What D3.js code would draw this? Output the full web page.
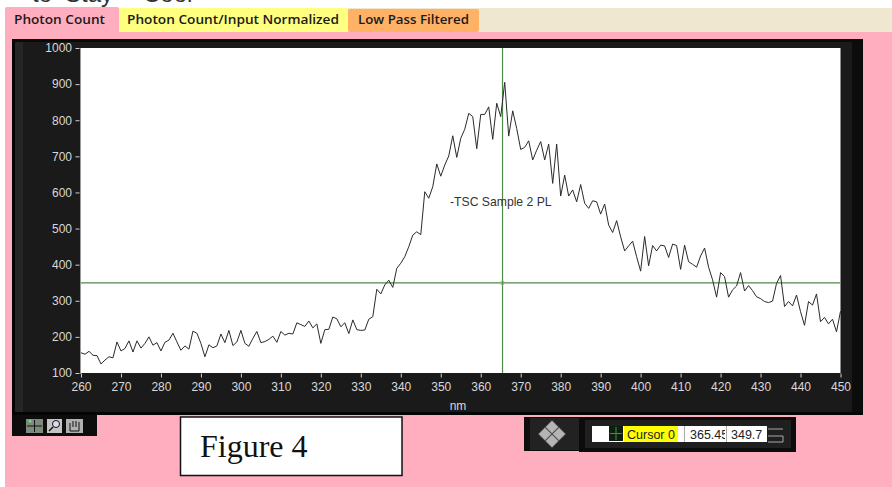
<!DOCTYPE html>
<html><head><meta charset="utf-8">
<script src="https://cdn.jsdelivr.net/npm/d3@7"></script>
<style>html,body{margin:0;padding:0;background:#fff}svg{display:block}</style>
</head><body><svg id="c" width="892" height="487"></svg>
<script>
const wavelengthStart = 260;
const photonCount = [
156,152,160,149,148,125,136,145,142,186,
161,168,189,158,189,169,182,200,177,184,
161,185,191,210,186,163,175,166,216,210,
182,145,178,170,175,208,184,218,176,186,
218,182,174,196,215,184,187,193,202,185,
215,205,210,208,239,234,229,244,225,236,
182,220,221,255,250,228,239,209,247,220,
218,219,249,256,332,319,344,357,337,390,
404,422,450,482,491,483,602,584,616,679,
645,676,701,757,697,750,775,819,810,721,
816,816,837,747,847,810,905,756,826,777,
719,725,743,690,717,741,690,734,625,734,
590,648,590,607,574,622,570,556,577,574,
540,568,510,489,522,477,438,452,465,422,
382,478,397,453,438,454,452,420,457,453,
387,454,408,401,393,424,446,393,358,310,
378,367,310,330,341,378,327,342,328,311,
306,298,295,299,348,370,284,298,286,316,
270,232,298,288,319,242,254,236,249,214,271];
const xTicks = d3.range(260, 451, 10);
const yTicks = d3.range(100, 1001, 100);
const tabs = ["Photon Count", "Photon Count/Input Normalized", "Low Pass Filtered"];
const clippedHeading = ["to", "Stay", "Cool"];
const cursorName = "Cursor 0";
const cursorX = 365.45, cursorY = 349.7;
const cursorXText = "365.45", cursorYText = "349.7";
const seriesLabel = "-TSC Sample 2 PL";
const xTitle = "nm";
const figureCaption = "Figure 4";

const svg = d3.select("#c");
const SANS = "'Liberation Sans',Arial,sans-serif";
const rect = (x,y,w,h,fill,extra={}) => {
  const r = svg.append("rect").attr("x",x).attr("y",y).attr("width",w).attr("height",h).attr("fill",fill);
  Object.entries(extra).forEach(([k,v])=>r.attr(k,v));
  return r;
};
const text = (x,y,s,size,fill,extra={}) => {
  const t = svg.append("text").attr("x",x).attr("y",y).text(s).attr("font-size",size).attr("fill",fill).attr("font-family",SANS);
  Object.entries(extra).forEach(([k,v])=>t.attr(k,v));
  return t;
};

// page panels
rect(0,0,892,487,"#ffffff");
[32,65,143].forEach((px,i)=>text(px,2,clippedHeading[i],24,"#333"));
rect(5,8,887,25,"#efe7cf");
rect(5,32,887,455,"#ffaebf");

// tabs
const tabGeom = [[5,114,"#ffaebf",7,14,91],[119,229,"#ffff80",8,127,212],[348,131,"#ffb266",9,358,111]];
tabGeom.forEach((g,i)=>{
  rect(g[0],g[3],g[1],32-g[3]+(i?0:4),g[2],{rx:2});
  text(g[4],i?24:23.5,tabs[i],13,"#1a1a1a",{"font-family":"'Open Sans','Noto Sans',sans-serif","font-weight":"600","textLength":g[5],"lengthAdjust":"spacingAndGlyphs"});
});

// graph frame
rect(12,39,851,376,"#1a1a1a");
rect(12,39,3,376,"#060606");
rect(15,39,8,376,"#262626");
rect(852,39,11,376,"#0c0c0c");
rect(12,39,851,3,"#0a0a0a");
rect(12,412,851,3,"#050505");

const x = d3.scaleLinear().domain([260,450]).range([81,840.5]);
const y = d3.scaleLinear().domain([100,1000]).range([373,48]);
rect(81,48,759.5,325,"#ffffff");
rect(80,48,1,326,"#9a9a9a");

const xAxis = d3.axisBottom(x).tickValues(xTicks).tickSize(4).tickPadding(5).tickSizeOuter(0).tickFormat(d3.format("d"));
const yAxis = d3.axisLeft(y).tickValues(yTicks).tickSize(4).tickPadding(3.5).tickSizeOuter(0).tickFormat(d3.format("d"));
const style = g => {
  g.select(".domain").remove();
  g.selectAll("line").attr("stroke","#cfcfcf");
  g.selectAll("text").attr("fill","#d8d8d8").attr("font-size",12).attr("font-family",SANS);
};
svg.append("g").attr("transform","translate(0,373.5)").call(xAxis).call(style);
svg.append("g").attr("transform","translate(79.5,0)").call(yAxis).call(style);
text(458,410,xTitle,12,"#d8d8d8",{"text-anchor":"middle"});

// cursor lines
svg.append("line").attr("x1",x(cursorX)).attr("x2",x(cursorX)).attr("y1",48).attr("y2",373).attr("stroke","#4f8a4a").attr("stroke-width",1.2);
svg.append("line").attr("x1",81).attr("x2",840.5).attr("y1",y(cursorY)).attr("y2",y(cursorY)).attr("stroke","#4f8a4a").attr("stroke-width",1.2);
svg.append("circle").attr("cx",x(cursorX)).attr("cy",y(cursorY)).attr("r",2).attr("fill","none").attr("stroke","#8fbf8a").attr("stroke-width",1);

// trace
const line = d3.line().x((d,i)=>x(wavelengthStart+i)).y(d=>y(d));
svg.append("path").datum(photonCount).attr("d",line).attr("fill","none").attr("stroke","#2a2a2a").attr("stroke-width",1);
text(450,206,seriesLabel,12.2,"#333");

// graph palette
rect(12,415,85,21,"#0d0d0d");
rect(26,419,17,14,"#7f8a7f");
rect(47,419,15,14,"#c4c4c4");
rect(66,419,17,14,"#b0b0b0");
svg.append("path").attr("d","M27 426H42M34.5 420V432").attr("stroke","#111").attr("fill","none");
svg.append("circle").attr("cx",30).attr("cy",421).attr("r",1.5).attr("fill","#6fe06f");
svg.append("circle").attr("cx",56).attr("cy",424).attr("r",3.5).attr("fill","#dde").attr("stroke","#111");
svg.append("path").attr("d","M53 427L49 431").attr("stroke","#111").attr("stroke-width",1.5);
svg.append("path").attr("d","M70 423V431H79V422M73 421V427M76 421V427").attr("stroke","#111").attr("fill","none");

// figure caption box
rect(180.5,417,221.5,58.5,"#ffffff",{stroke:"#111","stroke-width":1.5});
text(200,457,figureCaption,32,"#111",{"font-family":"'Liberation Serif','Times New Roman',serif"});

// cursor movers
rect(524,417,56,34,"#0e0e0e");
rect(530,418,49,32,"#222222");
[[552,427],[545,434],[559,434],[552,441]].forEach(p=>{
  svg.append("path").attr("d",`M${p[0]} ${p[1]-6.5}L${p[0]+6.5} ${p[1]}L${p[0]} ${p[1]+6.5}L${p[0]-6.5} ${p[1]}Z`).attr("fill","#b5b5b5").attr("stroke","#666").attr("stroke-width",0.5);
});

// cursor legend
rect(579,417,217,35,"#0c0c0c");
rect(585,420,206,28,"#1f1f1f");
rect(592,426,175,16,"#ffffff");
rect(609,426,14,15,"#0f1f0f");
svg.append("path").attr("d","M610 433.5H622M616 427V440").attr("stroke","#4f8a4a");
rect(624,426,54,16,"#ffff00");
text(627,438.5,cursorName,12.5,"#222");
rect(684,426,1,16,"#aaa"); rect(726,426,1,16,"#aaa");
const clip = svg.append("clipPath").attr("id","xv");
clip.append("rect").attr("x",685).attr("y",426).attr("width",40).attr("height",16);
text(690,438.5,cursorXText,12.5,"#222",{"clip-path":"url(#xv)"});
text(731,438.5,cursorYText,12.5,"#222");
svg.append("path").attr("d","M768 429H783M768 436H783V442H768").attr("stroke","#aaa").attr("fill","none");

rect(0,8,5,479,"#ffffff");
</script></body></html>
